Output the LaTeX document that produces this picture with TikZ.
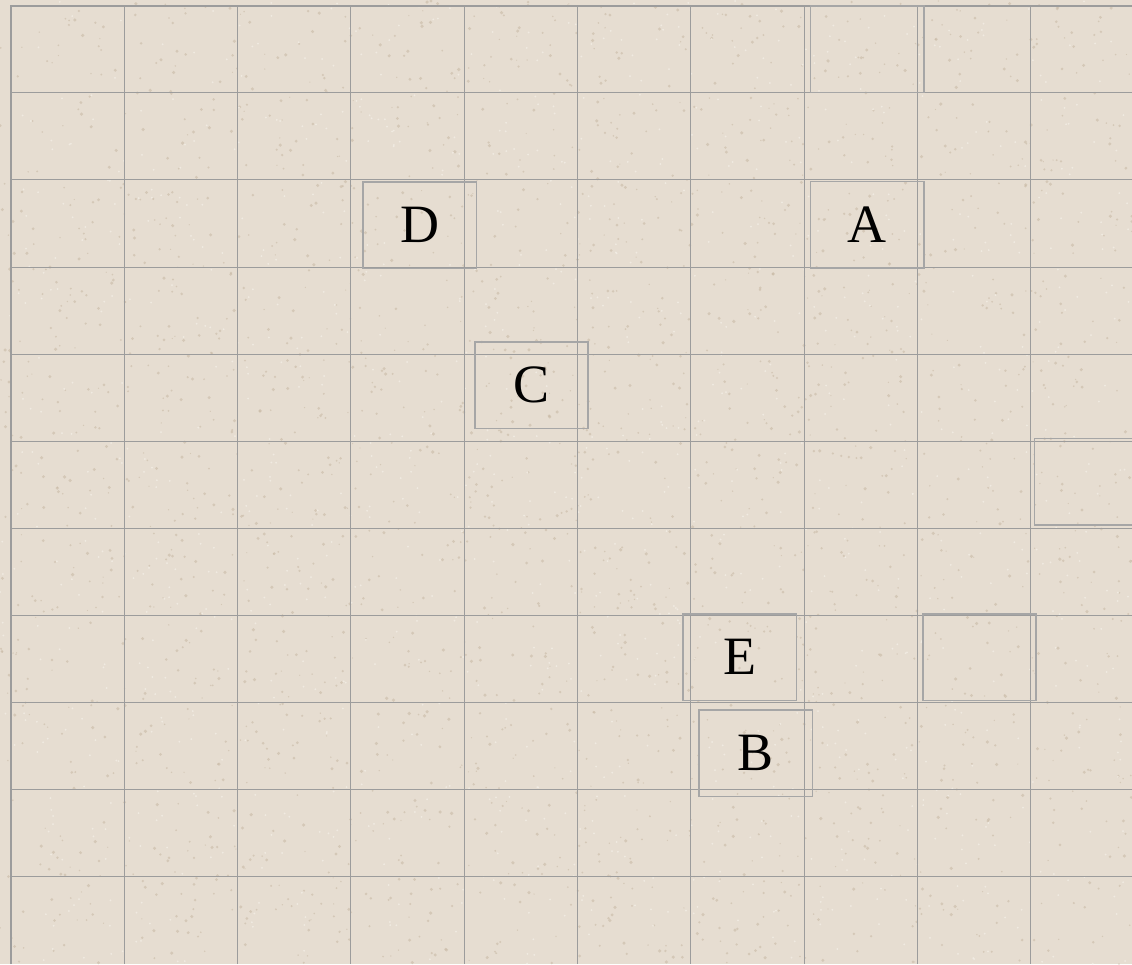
\documentclass[tikz,border=0pt]{standalone}
\usepackage{fontspec}
\setmainfont{Liberation Serif}
\definecolor{paper}{HTML}{E6DDD1}
\definecolor{speck}{HTML}{C9BAA6}
\definecolor{speckl}{HTML}{F3EEE6}
\definecolor{gridc}{HTML}{9C9C9C}
\definecolor{tilec}{HTML}{A6A6A6}
\tikzset{
  gridline/.style={draw=gridc, line width=1pt},
  frameline/.style={draw=gridc, line width=2.2pt},
  tile/.style={draw=tilec, line width=1.5pt, minimum width=113.4pt, minimum height=86.8pt,
    inner sep=0pt, font=\fontsize{54}{54}\selectfont, text=black},
}
\begin{document}
\begin{tikzpicture}[x=1pt,y=-1pt]
\useasboundingbox (0,0) rectangle (1132,964);
\clip (0,0) rectangle (1132,964);
\fill[paper] (0,0) rectangle (1132,964);
% texture
\pgfmathsetseed{7}
\foreach \i in {1,...,2600}{
  \pgfmathsetmacro{\px}{rnd*1132}
  \pgfmathsetmacro{\py}{rnd*964}
  \pgfmathsetmacro{\pr}{0.6+rnd*1.2}
  \fill[speck, opacity=0.6] (\px,\py) circle (\pr);
}
\foreach \i in {1,...,1200}{
  \pgfmathsetmacro{\px}{rnd*1132}
  \pgfmathsetmacro{\py}{rnd*964}
  \fill[speckl, opacity=0.8] (\px,\py) circle (1.0);
}
% grid
\foreach \i in {1,...,9}{
  \draw[gridline] ({11+113.33*\i},5.7) -- ({11+113.33*\i},964);
}
\foreach \j in {1,...,10}{
  \draw[gridline] (11,{5.7+87.1*\j}) -- (1132,{5.7+87.1*\j});
}
\draw[frameline] (11,964) -- (11,5.7) -- (1132,5.7);
% displaced tiles
\node[tile] (t1) at (867.3,49.3) {};
\node[tile] (D) at (419.7,225.2) {D};
\node[tile] (A) at (867.3,224.8) {A};
\node[tile] (C) at (531.5,385.3) {C};
\node[tile] (E) at (739.7,657.3) {E};
\node[tile] (B) at (755.7,753.3) {B};
\node[tile] (t2) at (979.5,657.3) {};
\node[tile] (t3) at (1091.3,481.7) {};
\end{tikzpicture}
\end{document}
